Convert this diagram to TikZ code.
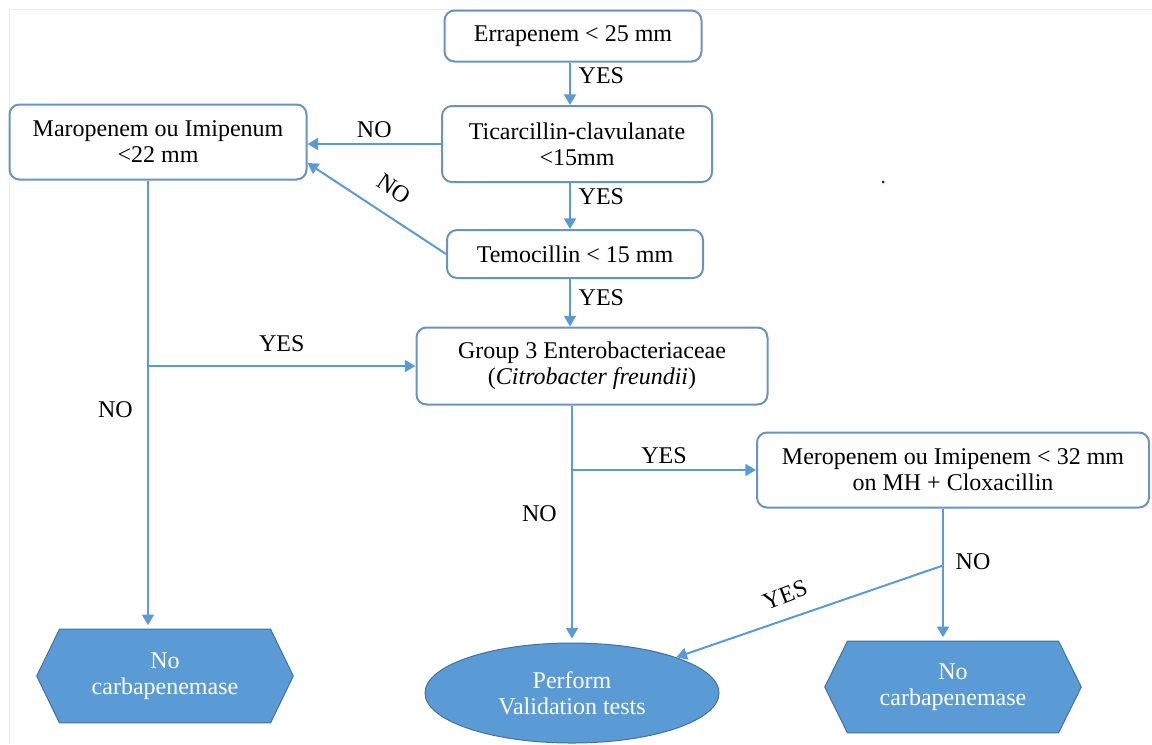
\documentclass[tikz,border=0pt]{standalone}
\usepackage{fontspec}
\setmainfont{Liberation Serif}
\usepackage{xcolor}
\usetikzlibrary{arrows.meta,shapes.geometric,backgrounds}

\definecolor{boxline}{RGB}{106,147,192}
\definecolor{arrline}{RGB}{91,155,213}
\definecolor{endfill}{RGB}{91,155,213}
\definecolor{endline}{RGB}{65,113,156}
\definecolor{framegray}{RGB}{236,236,236}

\tikzset{
  testbox/.style={draw=boxline, line width=1.5pt, rounded corners=7.5pt, fill=white, align=center, inner sep=0.75pt},
  endhex/.style={rectangle, text=white, align=center, minimum width=192pt, minimum height=69.75pt, inner sep=0pt},
  endoval/.style={ellipse, draw=endline, line width=0.75pt, fill=endfill, text=white, align=center, minimum width=220.5pt, minimum height=75pt, inner sep=0pt},
  arr/.style={draw=arrline, line width=1.5pt, -{Triangle[length=8pt,width=9pt]}},
  lbl/.style={inner sep=0.75pt}
}

% hexagon outline behind a named endhex node
\newcommand{\hexback}[1]{%
  \fill[endfill, draw=endline, line width=0.75pt] (#1.west) -- ([xshift=17pt]#1.north west) -- ([xshift=-17pt]#1.north east) -- (#1.east) -- ([xshift=-17pt]#1.south east) -- ([xshift=17pt]#1.south west) -- cycle;}

\begin{document}
\begin{tikzpicture}[x=0.75pt,y=0.75pt,yscale=-1,xscale=1,font=\fontsize{18}{19.5}\selectfont]
    \useasboundingbox (0,0) rectangle (1152,744);
    %Straight Lines [frame]
    \draw[framegray, line width=0.75pt] (9,744) -- (9,9) -- (1152,9);

    %Shape: Rounded Rect [err]
    \draw (573,36) node [testbox, minimum width=192.75pt, minimum height=38.25pt] (err) {Errapenem < 25 mm};
    %Shape: Rounded Rect [tic]
    \draw (577,144) node [testbox, minimum width=202.5pt, minimum height=57pt] (tic) {Ticarcillin-clavulanate\\<15mm};
    %Shape: Rounded Rect [tem]
    \draw (575,254) node [testbox, minimum width=192pt, minimum height=36pt] (tem) {Temocillin < 15 mm};
    %Shape: Rounded Rect [mar]
    \draw (158,142) node [testbox, minimum width=222.75pt, minimum height=56.25pt] (mar) {Maropenem ou Imipenum\\<22 mm};
    %Shape: Rounded Rect [grp]
    \draw (592,366) node [testbox, minimum width=263.25pt, minimum height=57.75pt] (grp) {Group 3 Enterobacteriaceae\\(\textit{Citrobacter freundii})};
    %Shape: Rounded Rect [mer]
    \draw (953,470) node [testbox, minimum width=294pt, minimum height=56.25pt] (mer) {Meropenem ou Imipenem < 32 mm\\on MH + Cloxacillin};
    %Shape: Hexagon [hexL]
    \draw (165,676) node [endhex] (hexL) {No\\carbapenemase};
    %Shape: Hexagon [hexR]
    \draw (953,687) node [endhex, minimum height=68.25pt] (hexR) {No\\carbapenemase};
    %Shape: Ellipse [val]
    \draw (572,693) node [endoval] (val) {Perform\\Validation tests};

    \begin{scope}[on background layer]
    \hexback{hexL}
    \hexback{hexR}
    \end{scope}

    %Junctions
    \coordinate (mS) at ([xshift=-7.5pt]mar.south);
    \coordinate (jL) at (mS |- grp.west);
    \coordinate (gS) at (val.north |- grp.south);
    \coordinate (jM) at (gS |- mer.west);
    \coordinate (rS) at ([xshift=-7.5pt]mer.south);
    \coordinate (jR) at ([yshift=42.75pt]rS);

    %Straight Lines [main column]
    \draw[arr] ([xshift=-2.25pt]err.south) -- ([xshift=-2.25pt]err.south |- tic.north) node [lbl, pos=0.3, right=5pt] {YES};
    \draw[arr] ([xshift=-5.25pt]tic.south) -- ([xshift=-5.25pt]tic.south |- tem.north) node [lbl, pos=0.3, right=5pt] {YES};
    \draw[arr] ([xshift=-3.75pt]tem.south) -- ([xshift=-3.75pt]tem.south |- grp.north) node [lbl, pos=0.4, right=5pt] {YES};
    %Straight Lines [to mar]
    \draw[arr] (tic.west) -- (tic.west -| mar.east) node [lbl, midway, above=3pt] {NO};
    \draw[arr] (tem.west) -- ([yshift=15.75pt]mar.east);
    %Straight Lines [left column]
    \draw[arr, shorten >=3pt] (mS) -- (mS |- hexL.north) node [lbl, pos=0.51, left=10pt] {NO};
    \draw[arr] (jL) -- (jL -| grp.west) node [lbl, midway, above=9pt] {YES};
    %Straight Lines [middle column]
    \draw[arr, shorten >=3pt] (gS) -- (val.north) node [lbl, pos=0.455, left=10pt] {NO};
    \draw[arr] (jM) -- (mer.west) node [lbl, midway, above=3pt] {YES};
    %Straight Lines [right column]
    \draw[arr, shorten >=3pt] (rS) -- (rS |- hexR.north) node [lbl, pos=0.4, right=8pt] {NO};
    \draw[arr] (jR) -- (val.north east);

    % Text Node
    \draw (394,189) node [lbl, rotate=-34] (noTem) {NO};
    % Text Node
    \draw (785,595) node [lbl, rotate=21] (yesMer) {YES};

    %Shape: Dot
    \fill[blue] (883,182) circle (1.5);
\end{tikzpicture}
\end{document}
